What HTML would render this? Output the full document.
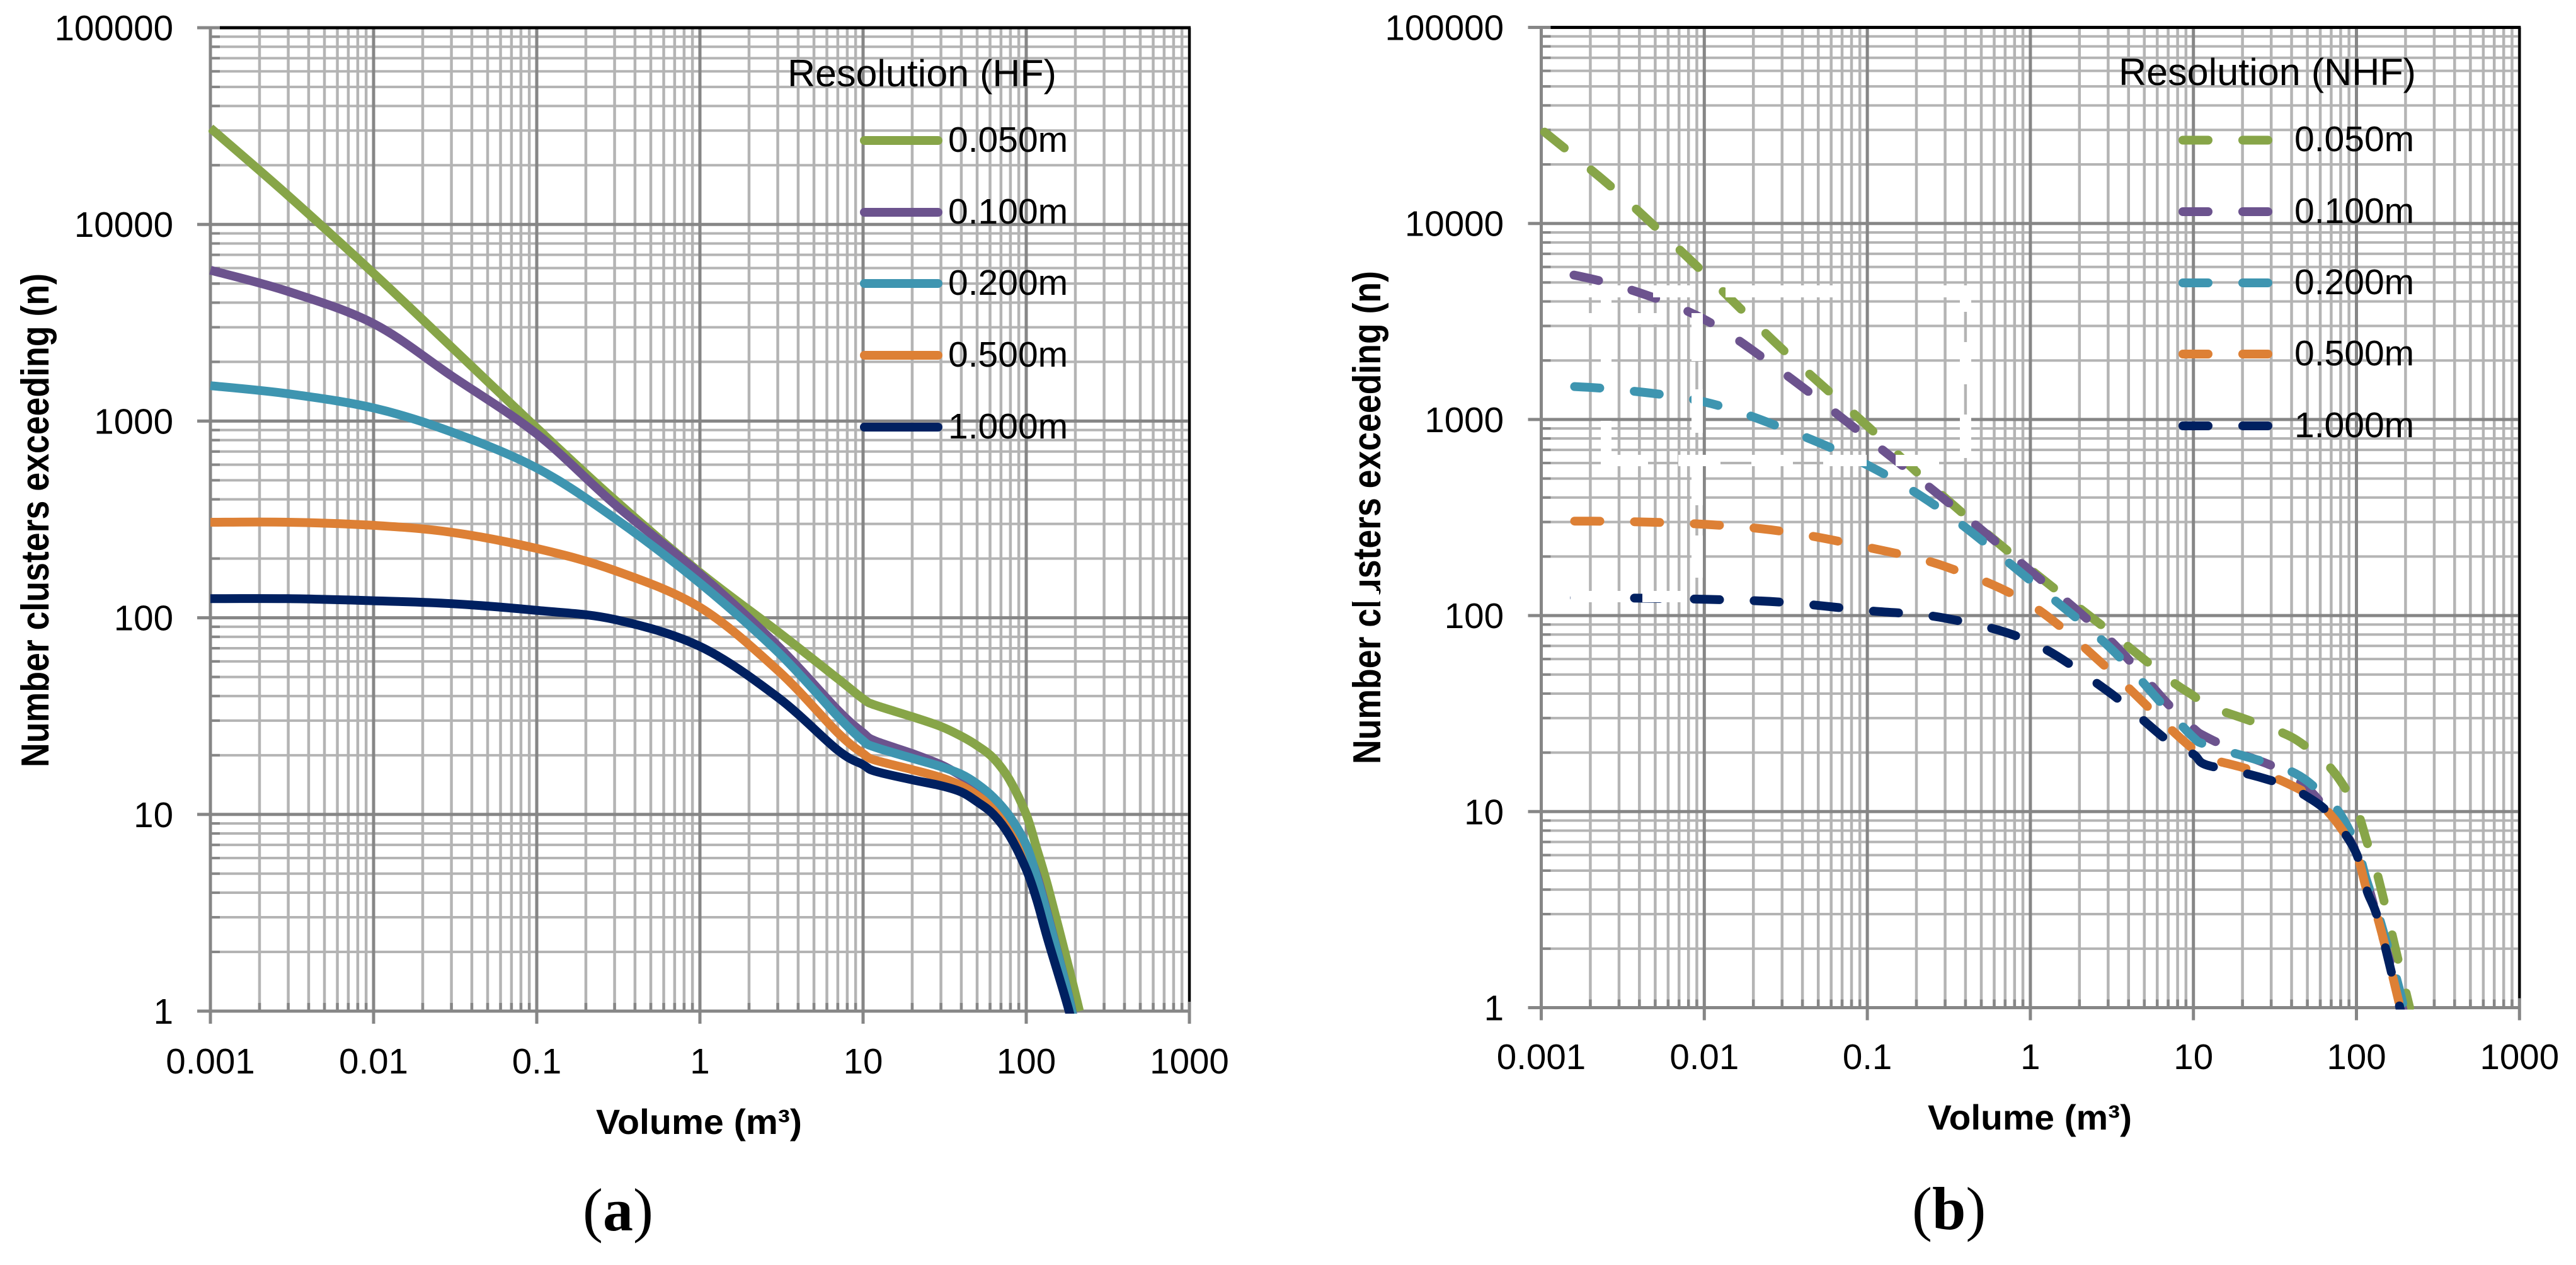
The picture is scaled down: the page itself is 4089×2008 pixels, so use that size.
<!DOCTYPE html>
<html lang="en">
<head>
<meta charset="utf-8">
<title>Number of clusters exceeding volume, HF and NHF</title>
<style>
html,body{margin:0;padding:0;background:#fff;}
svg{display:block;}
text{font-family:"Liberation Sans",sans-serif;fill:#000;}
.tick{font-size:56.5px;}
.legend-label{font-size:57px;}
.legend-title{font-size:60px;}
.axis-title{font-size:56px;font-weight:bold;}
.y-title{font-size:62px;font-weight:bold;}
.caption{font-family:"Liberation Serif",serif;font-size:96px;}
.caption tspan{font-weight:bold;}
</style>
</head>
<body>
<svg id="figure" xmlns="http://www.w3.org/2000/svg" width="4089" height="2008" viewBox="0 0 4089 2008">
  <rect x="0" y="0" width="4089" height="2008" fill="#fff"/>

  <g id="panel-a">
    <g id="panel-a-grid"></g>
    <g id="panel-a-series"></g>
    <g id="panel-a-ticks"></g>
    <text class="y-title" transform="translate(77,1218) rotate(-90)" textLength="784" lengthAdjust="spacingAndGlyphs">Number clusters exceeding (n)</text>
    <text class="axis-title" x="946" y="1800" textLength="327" lengthAdjust="spacingAndGlyphs">Volume (m³)</text>
    <g>
      <text class="legend-title" x="1250" y="137" textLength="427" lengthAdjust="spacingAndGlyphs">Resolution (HF)</text>
      <line x1="1372" y1="223" x2="1489" y2="223" stroke="#87a548" stroke-width="14" stroke-linecap="round"/>
      <text class="legend-label" x="1505" y="241">0.050m</text>
      <line x1="1372" y1="337" x2="1489" y2="337" stroke="#6c538e" stroke-width="14" stroke-linecap="round"/>
      <text class="legend-label" x="1505" y="355">0.100m</text>
      <line x1="1372" y1="450" x2="1489" y2="450" stroke="#3e95b0" stroke-width="14" stroke-linecap="round"/>
      <text class="legend-label" x="1505" y="468">0.200m</text>
      <line x1="1372" y1="564" x2="1489" y2="564" stroke="#dd8035" stroke-width="14" stroke-linecap="round"/>
      <text class="legend-label" x="1505" y="582">0.500m</text>
      <line x1="1372" y1="678" x2="1489" y2="678" stroke="#002060" stroke-width="14" stroke-linecap="round"/>
      <text class="legend-label" x="1505" y="696">1.000m</text>
    </g>
    <text class="caption" x="925" y="1953">(<tspan>a</tspan>)</text>
  </g>

  <g id="panel-b">
    <g id="panel-b-grid"></g>
    <g id="panel-b-series"></g>
    <g id="panel-b-ticks"></g>
    <text class="y-title" transform="translate(2191,1213) rotate(-90)" textLength="783" lengthAdjust="spacingAndGlyphs">Number clusters exceeding (n)</text>
    <text class="axis-title" x="3060" y="1793" textLength="324" lengthAdjust="spacingAndGlyphs">Volume (m³)</text>
    <g>
      <text class="legend-title" x="3363" y="135" textLength="472" lengthAdjust="spacingAndGlyphs">Resolution (NHF)</text>
      <line x1="3465" y1="222.5" x2="3600" y2="222.5" stroke="#87a548" stroke-width="14" stroke-linecap="round" stroke-dasharray="40 55"/>
      <text class="legend-label" x="3642" y="240">0.050m</text>
      <line x1="3465" y1="336" x2="3600" y2="336" stroke="#6c538e" stroke-width="14" stroke-linecap="round" stroke-dasharray="40 55"/>
      <text class="legend-label" x="3642" y="354">0.100m</text>
      <line x1="3465" y1="449" x2="3600" y2="449" stroke="#3e95b0" stroke-width="14" stroke-linecap="round" stroke-dasharray="40 55"/>
      <text class="legend-label" x="3642" y="467">0.200m</text>
      <line x1="3465" y1="562" x2="3600" y2="562" stroke="#dd8035" stroke-width="14" stroke-linecap="round" stroke-dasharray="40 55"/>
      <text class="legend-label" x="3642" y="580">0.500m</text>
      <line x1="3465" y1="676" x2="3600" y2="676" stroke="#002060" stroke-width="14" stroke-linecap="round" stroke-dasharray="40 55"/>
      <text class="legend-label" x="3642" y="694">1.000m</text>
    </g>
    <text class="caption" x="3035" y="1951">(<tspan>b</tspan>)</text>

    <g fill="#fff">
      <rect x="2520" y="453" width="59" height="19"/>
      <rect x="2624" y="453" width="64" height="19"/>
      <rect x="2739" y="453" width="181" height="19"/>
      <rect x="3083" y="453" width="46" height="19"/>
      <rect x="2520" y="497" width="38" height="18"/>
      <rect x="2593" y="497" width="39" height="18"/>
      <rect x="2541" y="472" width="17" height="13"/>
      <rect x="2541" y="567" width="17" height="10"/>
      <rect x="2541" y="668" width="17" height="69"/>
      <rect x="2541" y="722" width="75" height="18"/>
      <rect x="2664" y="722" width="67" height="18"/>
      <rect x="2780" y="722" width="66" height="18"/>
      <rect x="2894" y="722" width="69" height="18"/>
      <rect x="3009" y="722" width="69" height="18"/>
      <rect x="2685" y="497" width="18" height="76"/>
      <rect x="2685" y="618" width="18" height="69"/>
      <rect x="2685" y="740" width="18" height="62"/>
      <rect x="2685" y="850" width="18" height="67"/>
      <rect x="3111" y="472" width="18" height="23"/>
      <rect x="3111" y="543" width="18" height="67"/>
      <rect x="3111" y="658" width="18" height="69"/>
      <rect x="2147" y="938" width="42" height="18"/>
      <rect x="2493" y="938" width="91" height="18"/>
      <rect x="2607" y="938" width="71" height="18"/>
    </g>
  </g>
</svg>

<script>
const volumes = [0.001,0.003,0.01,0.03,0.1,0.3,1,3,7,10,11.8,20,30,40,50,63,79,100,116,136,183,212];

const hf050 = [30900,14000,5640,2380,923,398,170,85,49,38.7,36,31.4,28,25,22.4,19.3,15,10,6.7,4.27,1.64,1.0];
const hf100 = [5850,4560,3130,1700,860,378,167,72,33.9,26,23.7,20.4,17.9,15.7,14,11.8,9.2,6.7,4.9,3.05,1.17,0.65];
const hf200 = [1514,1376,1166,881,577,321,150,67,31.5,23.7,22,19.3,17.5,16,14.3,12.2,9.8,7,4.8,3,1.16,0.62];
const hf500 = [306,306,295,272,225,174,113,54,26,20.4,18.9,16.9,15.4,14,12.5,10.7,8.4,6,4,2.6,1.07,0.6];
const hf1000 = [125,125,122,118,109,98,71.5,39.4,21.2,17.9,16.6,15,14,13,11.6,10,7.8,5.25,3.67,2.29,1,0.58];

const nhf050 = [30200,14200,5570,2290,927,398,172,84,47.7,39,35,30,26.6,24,21.2,18.2,14.5,10.3,7,4.6,1.66,1.0];
const nhf100 = [5890,4790,3240,1750,805,389,169,76.5,35.3,26.6,24.2,19.6,17.2,15.1,13.2,10.7,8.6,6.2,4.4,2.76,1.16,0.7];
const nhf200 = [1500,1419,1230,906,586,336,151,70,32.7,23.9,22,19.3,17.5,16,14.3,12,9.8,6.7,4.4,3,1.25,0.72];
const nhf500 = [303,302,292,269,223,178,114,53.4,27.1,20.8,18.9,16.8,15.1,13.6,12.3,10.5,8.4,6.1,3.95,2.8,1.05,0.6];
const nhf1000 = [123,123,121,117,106,97,73.6,41,22.9,19.6,17.4,15.8,14.4,13.2,11.9,10.4,8.4,6.1,3.95,2.8,1.03,0.6];

const xTickValues = [0.001,0.01,0.1,1,10,100,1000];
const xTickLabels = ["0.001","0.01","0.1","1","10","100","1000"];
const yTickValues = [1,10,100,1000,10000,100000];
const yTickLabels = ["1","10","100","1000","10000","100000"];

const NS = "http://www.w3.org/2000/svg";
const MAJOR = "#868686";
const MINOR = "#b4b4b4";

function make(tag, attrs) {
  const node = document.createElementNS(NS, tag);
  for (const key in attrs) node.setAttribute(key, attrs[key]);
  return node;
}

function curvePath(points) {
  let d = "M" + points[0][0].toFixed(1) + " " + points[0][1].toFixed(1);
  for (let i = 0; i < points.length - 1; i++) {
    const p0 = points[Math.max(i - 1, 0)];
    const p1 = points[i];
    const p2 = points[i + 1];
    const p3 = points[Math.min(i + 2, points.length - 1)];
    const c1x = p1[0] + (p2[0] - p0[0]) / 6;
    const c1y = p1[1] + (p2[1] - p0[1]) / 6;
    const c2x = p2[0] - (p3[0] - p1[0]) / 6;
    const c2y = p2[1] - (p3[1] - p1[1]) / 6;
    d += "C" + c1x.toFixed(1) + " " + c1y.toFixed(1) + " " + c2x.toFixed(1) + " " + c2y.toFixed(1) + " " + p2[0].toFixed(1) + " " + p2[1].toFixed(1);
  }
  return d;
}

function drawPanel(cfg) {
  const xScale = v => cfg.x0 + (Math.log10(v) + 3) * cfg.xDecade;
  const yScale = n => cfg.yOne - Math.log10(n) * cfg.yDecade;
  const left = xScale(0.001);
  const right = xScale(1000);
  const bottom = yScale(1);
  const top = yScale(100000);
  const grid = document.getElementById(cfg.id + "-grid");
  const seriesLayer = document.getElementById(cfg.id + "-series");
  const ticks = document.getElementById(cfg.id + "-ticks");

  // minor gridlines
  for (let d = -3; d < 3; d++) {
    for (let m = 2; m <= 9; m++) {
      const gx = xScale(m * Math.pow(10, d));
      const line = make("line", {x1: gx, x2: gx, y1: top, y2: bottom, stroke: MINOR, "stroke-width": 4.5});
      
      
      grid.appendChild(line);
      const tick = make("line", {x1: gx, x2: gx, y1: bottom - 13, y2: bottom, stroke: MAJOR, "stroke-width": 4.5});
      
      
      grid.appendChild(tick);
    }
  }
  for (let d = 0; d < 5; d++) {
    for (let m = 2; m <= 9; m++) {
      const gy = yScale(m * Math.pow(10, d));
      const line = make("line", {x1: left, x2: right, y1: gy, y2: gy, stroke: MINOR, "stroke-width": 4});
      
      
      grid.appendChild(line);
      const tick = make("line", {x1: left, x2: left + 15, y1: gy, y2: gy, stroke: MAJOR, "stroke-width": 4});
      
      
      grid.appendChild(tick);
    }
  }

  // major gridlines and tick labels
  xTickValues.forEach((v, i) => {
    const gx = xScale(v);
    const line = make("line", {x1: gx, x2: gx, y1: top, y2: bottom + 20, stroke: MAJOR, "stroke-width": 5});
    
    
    grid.appendChild(line);
    const label = make("text", {x: gx, y: cfg.xLabelBase, "text-anchor": "middle", "class": "tick"});
    label.textContent = xTickLabels[i];
    
    
    ticks.appendChild(label);
  });
  yTickValues.forEach((v, i) => {
    const gy = yScale(v);
    const line = make("line", {x1: left - 21, x2: right, y1: gy, y2: gy, stroke: MAJOR, "stroke-width": 5});
    
    
    grid.appendChild(line);
    const label = make("text", {x: cfg.yLabelRight, y: gy + 20, "text-anchor": "end", "class": "tick"});
    label.textContent = yTickLabels[i];
    
    
    ticks.appendChild(label);
  });

  // top and right plot borders
  const topBorder = make("line", {x1: left + 15, x2: right + 2, y1: top, y2: top, stroke: "#000", "stroke-width": 5});
  
  
  grid.appendChild(topBorder);
  const rightBorder = make("line", {x1: right, x2: right, y1: top, y2: bottom - 15, stroke: "#000", "stroke-width": 4});
  
  
  grid.appendChild(rightBorder);

  // clip for series
  const clip = make("clipPath", {id: cfg.id + "-clip"});
  clip.appendChild(make("rect", {x: left - 3, y: top, width: right - left + 3, height: bottom - top + cfg.clipPad}));
  document.getElementById("figure").appendChild(clip);

  cfg.series.forEach(s => {
    const points = volumes.map((v, i) => [xScale(v), yScale(s.values[i])]);
    const path = make("path", {
      d: curvePath(points),
      fill: "none",
      stroke: s.color,
      "stroke-width": 14,
      "stroke-linejoin": "round",
      "clip-path": "url(#" + cfg.id + "-clip)"
    });
    if (cfg.dashed) {
      path.setAttribute("stroke-dasharray", "40 55");
      path.setAttribute("stroke-dashoffset", s.dashOffset);
      path.setAttribute("stroke-linecap", "round");
    }
    
    
    seriesLayer.appendChild(path);
  });
}

drawPanel({
  id: "panel-a", x0: 334, xDecade: 259, yOne: 1605, yDecade: 312.2,
  xLabelBase: 1704, yLabelRight: 275, clipPad: 4, dashed: false,
  series: [
    {name: "series-a-0050m", color: "#87a548", values: hf050},
    {name: "series-a-0100m", color: "#6c538e", values: hf100},
    {name: "series-a-0500m", color: "#dd8035", values: hf500},
    {name: "series-a-0200m", color: "#3e95b0", values: hf200},
    {name: "series-a-1000m", color: "#002060", values: hf1000}
  ]
});

drawPanel({
  id: "panel-b", x0: 2446.5, xDecade: 258.8, yOne: 1599.5, yDecade: 311.2,
  xLabelBase: 1697, yLabelRight: 2387, clipPad: 3, dashed: true,
  series: [
    {name: "series-b-0050m", color: "#87a548", values: nhf050, dashOffset: -7},
    {name: "series-b-0100m", color: "#6c538e", values: nhf100, dashOffset: 42},
    {name: "series-b-0200m", color: "#3e95b0", values: nhf200, dashOffset: 42},
    {name: "series-b-0500m", color: "#dd8035", values: nhf500, dashOffset: 42},
    {name: "series-b-1000m", color: "#002060", values: nhf1000, dashOffset: 42}
  ]
});
</script>
</body>
</html>
